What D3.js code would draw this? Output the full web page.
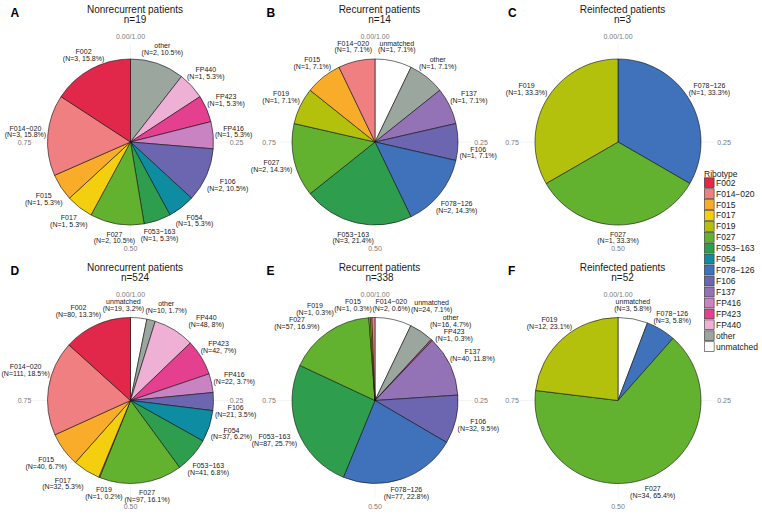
<!DOCTYPE html>
<html><head><meta charset="utf-8">
<script src="https://cdn.jsdelivr.net/npm/d3@7"></script>
<style>body{margin:0;background:#fff} svg{display:block;font-family:"Liberation Sans",Arial,Helvetica,sans-serif}</style>
</head><body><svg id="c" width="762" height="517"></svg>
<script>
// ---------- data ----------
const ribotypes = ["F002","F014−020","F015","F017","F019","F027","F053−163","F054","F078−126","F106","F137","FP416","FP423","FP440","other","unmatched"];
const ribotypeColors = ["#E1284A","#F07F82","#F9AC2A","#F3CF0F","#B3C10D","#63B22F","#2E9E4E","#0E8CA1","#3F72BB","#6B66AF","#9373B6","#C983C2","#E5408F","#EFB0D5","#9BA69F","#FFFFFF"];
const panelLetters = ["A","B","C","D","E","F"];
const panelTitles = ["Nonrecurrent patients","Recurrent patients","Reinfected patients","Nonrecurrent patients","Recurrent patients","Reinfected patients"];
const panelN = [19,14,3,524,338,52];
//                F002 F014 F015 F017 F019 F027 F053 F054 F078 F106 F137 P416 P423 P440 other unm
const countsA = [  3,   3,   1,   1,   0,   2,   1,   1,   0,   2,   0,   1,   1,   1,   2,   0];
const countsB = [  0,   1,   1,   0,   1,   2,   3,   0,   2,   1,   1,   0,   0,   0,   1,   1];
const countsC = [  0,   0,   0,   0,   1,   1,   0,   0,   1,   0,   0,   0,   0,   0,   0,   0];
const countsD = [ 80, 111,  40,  32,   1,  97,  41,  37,   0,  21,   0,  22,  42,  48,  10,  19];
const countsE = [  0,   2,   1,   0,   1,  57,  87,   0,  77,  32,  40,   0,   1,   0,  16,  24];
const countsF = [  0,   0,   0,   0,  12,  34,   0,   0,   3,   0,   0,   0,   0,   0,   0,   3];
const panelCounts = [countsA,countsB,countsC,countsD,countsE,countsF];
const thetaTicks = [0, 0.25, 0.5, 0.75];
const thetaTickLabels = ["0.00/1.00","0.25","0.50","0.75"];
const legendTitle = "Ribotype";

// ---------- layout ----------
const svg = d3.select("#c");
const W = 762;
const colCx = [130.5, 375, 618];
const rowY0 = [0, 258.5];
const pieCyOff = 142;
const R = 83;
const labelR = 98;
const labelMaxR = 110;
const tickR = 106;
const lineGap = 6.8;
const color = d3.scaleOrdinal().domain(ribotypes).range(ribotypeColors);
const theta = d3.scaleLinear().domain([0,1]).range([0, 2*Math.PI]);
const arc = d3.arc().innerRadius(0).outerRadius(R);
const pie = d3.pie().sort(null).value(d => d.n).startAngle(0).endAngle(2*Math.PI);

function fmtPct(v){ return String(+(v).toFixed(1)); }

const measure = svg.append("text").attr("font-size",7).attr("visibility","hidden");
function textW(s, fs){ measure.attr("font-size",fs).text(s); return measure.node().getComputedTextLength(); }

function overlap(A, B, pad){
  const dx = B.x - A.x, dy = B.y - A.y;
  const ox = (A.w + B.w)/2 + pad - Math.abs(dx);
  const oy = (A.h + B.h)/2 + pad - Math.abs(dy);
  return {dx, dy, ox, oy};
}

panelCounts.forEach((counts, pi) => {
  const col = pi % 3, row = Math.floor(pi/3);
  const cx = colCx[col], y0 = rowY0[row], cy = y0 + pieCyOff;
  const g = svg.append("g");
  g.append("text").attr("x", [10.5,266.5,508][col]).attr("y", y0+16.5)
    .attr("font-size",12).attr("font-weight","bold").attr("fill","#000").text(panelLetters[pi]);
  g.append("text").attr("x", cx+4.5).attr("y", y0+12.5).attr("text-anchor","middle")
    .attr("font-size",10).attr("fill","#1a1a1a").text(panelTitles[pi]);
  g.append("text").attr("x", cx+4.5).attr("y", y0+22.5).attr("text-anchor","middle")
    .attr("font-size",10).attr("fill","#1a1a1a").text("n=" + panelN[pi]);
  const pg = g.append("g").attr("transform", `translate(${cx},${cy})`);
  d3.range(0,1,0.125).forEach(t => {
    const a = theta(t);
    pg.append("line").attr("x1",0).attr("y1",0)
      .attr("x2", Math.sin(a)*(tickR-8)).attr("y2", -Math.cos(a)*(tickR-8))
      .attr("stroke","#f1f1f1").attr("stroke-width", t*4 % 1 === 0 ? 0.8 : 0.5);
  });
  const obstacles = [];
  thetaTicks.forEach((t,i) => {
    const a = theta(t);
    const x = Math.sin(a)*tickR, y = -Math.cos(a)*tickR;
    pg.append("text").attr("x", x).attr("y", y)
      .attr("text-anchor","middle").attr("dominant-baseline","central")
      .attr("font-size",7).attr("fill","#7a7a7a").text(thetaTickLabels[i]);
    obstacles.push({x, y, w: textW(thetaTickLabels[i],7), h: 6});
  });
  const total = d3.sum(counts);
  const data = ribotypes.map((r,i) => ({r, n: counts[i]})).reverse().filter(d => d.n > 0);
  const arcs = pie(data);
  pg.selectAll("path").data(arcs).join("path")
    .attr("d", arc).attr("fill", d => color(d.data.r))
    .attr("stroke","#111").attr("stroke-width",0.6).attr("stroke-linejoin","round");

  // ----- labels with a simple repel -----
  const labs = arcs.map((d, k) => {
    const a = (d.startAngle + d.endAngle)/2;
    const l1 = d.data.r, l2 = `(N=${d.data.n}, ${fmtPct(d.data.n/total*100)}%)`;
    const w = Math.max(textW(l1,7), textW(l2,7)) + 1;
    const ax = Math.sin(a)*labelR, ay = -Math.cos(a)*labelR;
    return {l1, l2, w, h: 13.5, x: ax, y: ay, ax, ay, a, k};
  });
  for (let it = 0; it < 700; it++) {
    for (let i = 0; i < labs.length; i++) for (let j = i+1; j < labs.length; j++) {
      const A = labs[i], B = labs[j];
      const o = overlap(A, B, 0.8);
      if (o.ox > 0 && o.oy > 0) {
        const ma = Math.atan2(A.x + B.x, -(A.y + B.y));
        const nearPole = Math.abs(Math.cos(ma)) > 0.7;
        const horiz = it < 200 ? o.ox < o.oy : nearPole;
        if (horiz) {
          // order by slice angle (unwrapped around top)
          const ua = L => (L.a > Math.PI ? L.a - 2*Math.PI : L.a);
          let sg = Math.cos(ma) > 0 ? Math.sign(ua(B) - ua(A)) : -Math.sign(B.a - A.a);
          if (it < 200 && o.dx !== 0) sg = Math.sign(o.dx);
          const s = sg * Math.min(o.ox, 6)/2 * 0.4; A.x -= s; B.x += s;
        } else {
          let sg = o.dy !== 0 ? Math.sign(o.dy) : 1;
          const s = sg * Math.min(o.oy, 6)/2 * 0.4; A.y -= s; B.y += s;
        }
      }
    }
    labs.forEach(L => {
      obstacles.forEach(O => {
        const o = overlap(O, L, 0.8);
        if (o.ox > 0 && o.oy > 0) {
          if (o.ox < o.oy) L.x += Math.sign(o.dx || 1) * o.ox * 0.5;
          else L.y += Math.sign(o.dy || 1) * o.oy * 0.5;
        }
      });
      const nx = Math.max(L.x - L.w/2, Math.min(0, L.x + L.w/2));
      const ny = Math.max(L.y - L.h/2, Math.min(0, L.y + L.h/2));
      const dist = Math.hypot(nx, ny);
      const dd = Math.hypot(L.x, L.y) || 1;
      if (dist < R + 1) {
        const push = (R + 1 - dist) * 0.6;
        L.x += L.x/dd*push; L.y += L.y/dd*push;
      }
      const d2 = Math.hypot(L.x, L.y);
      if (d2 > labelMaxR) { const f = labelMaxR/d2; L.x *= f; L.y *= f; }
      const absL = cx + L.x - L.w/2, absR = cx + L.x + L.w/2;
      if (absL < 1) L.x += 1 - absL;
      if (absR > W - 1) L.x -= absR - (W - 1);
      L.x += (L.ax - L.x)*0.003; L.y += (L.ay - L.y)*0.003;
    });
  }
  labs.forEach(L => {
    const t = pg.append("text").attr("text-anchor","middle").attr("font-size",7).attr("fill","#1a1a1a");
    t.append("tspan").attr("x", L.x).attr("y", L.y - lineGap/2).attr("dominant-baseline","central").text(L.l1);
    t.append("tspan").attr("x", L.x).attr("y", L.y + lineGap/2).attr("dominant-baseline","central").text(L.l2);
  });
});
measure.remove();

// legend
const lg = svg.append("g");
lg.append("text").attr("x",704).attr("y",176.5).attr("font-size",8.5).attr("fill","#1a1a1a").text(legendTitle);
const key = 10.93;
ribotypes.forEach((r,i) => {
  const yc = 182.7 + i*key;
  lg.append("rect").attr("x",704.3).attr("y",yc-4.9).attr("width",9.8).attr("height",9.8)
    .attr("fill", color(r)).attr("stroke","#333").attr("stroke-width",0.6);
  lg.append("text").attr("x",716).attr("y",yc).attr("dominant-baseline","central")
    .attr("font-size",8.5).attr("fill","#1a1a1a").text(r);
});
</script></body></html>
